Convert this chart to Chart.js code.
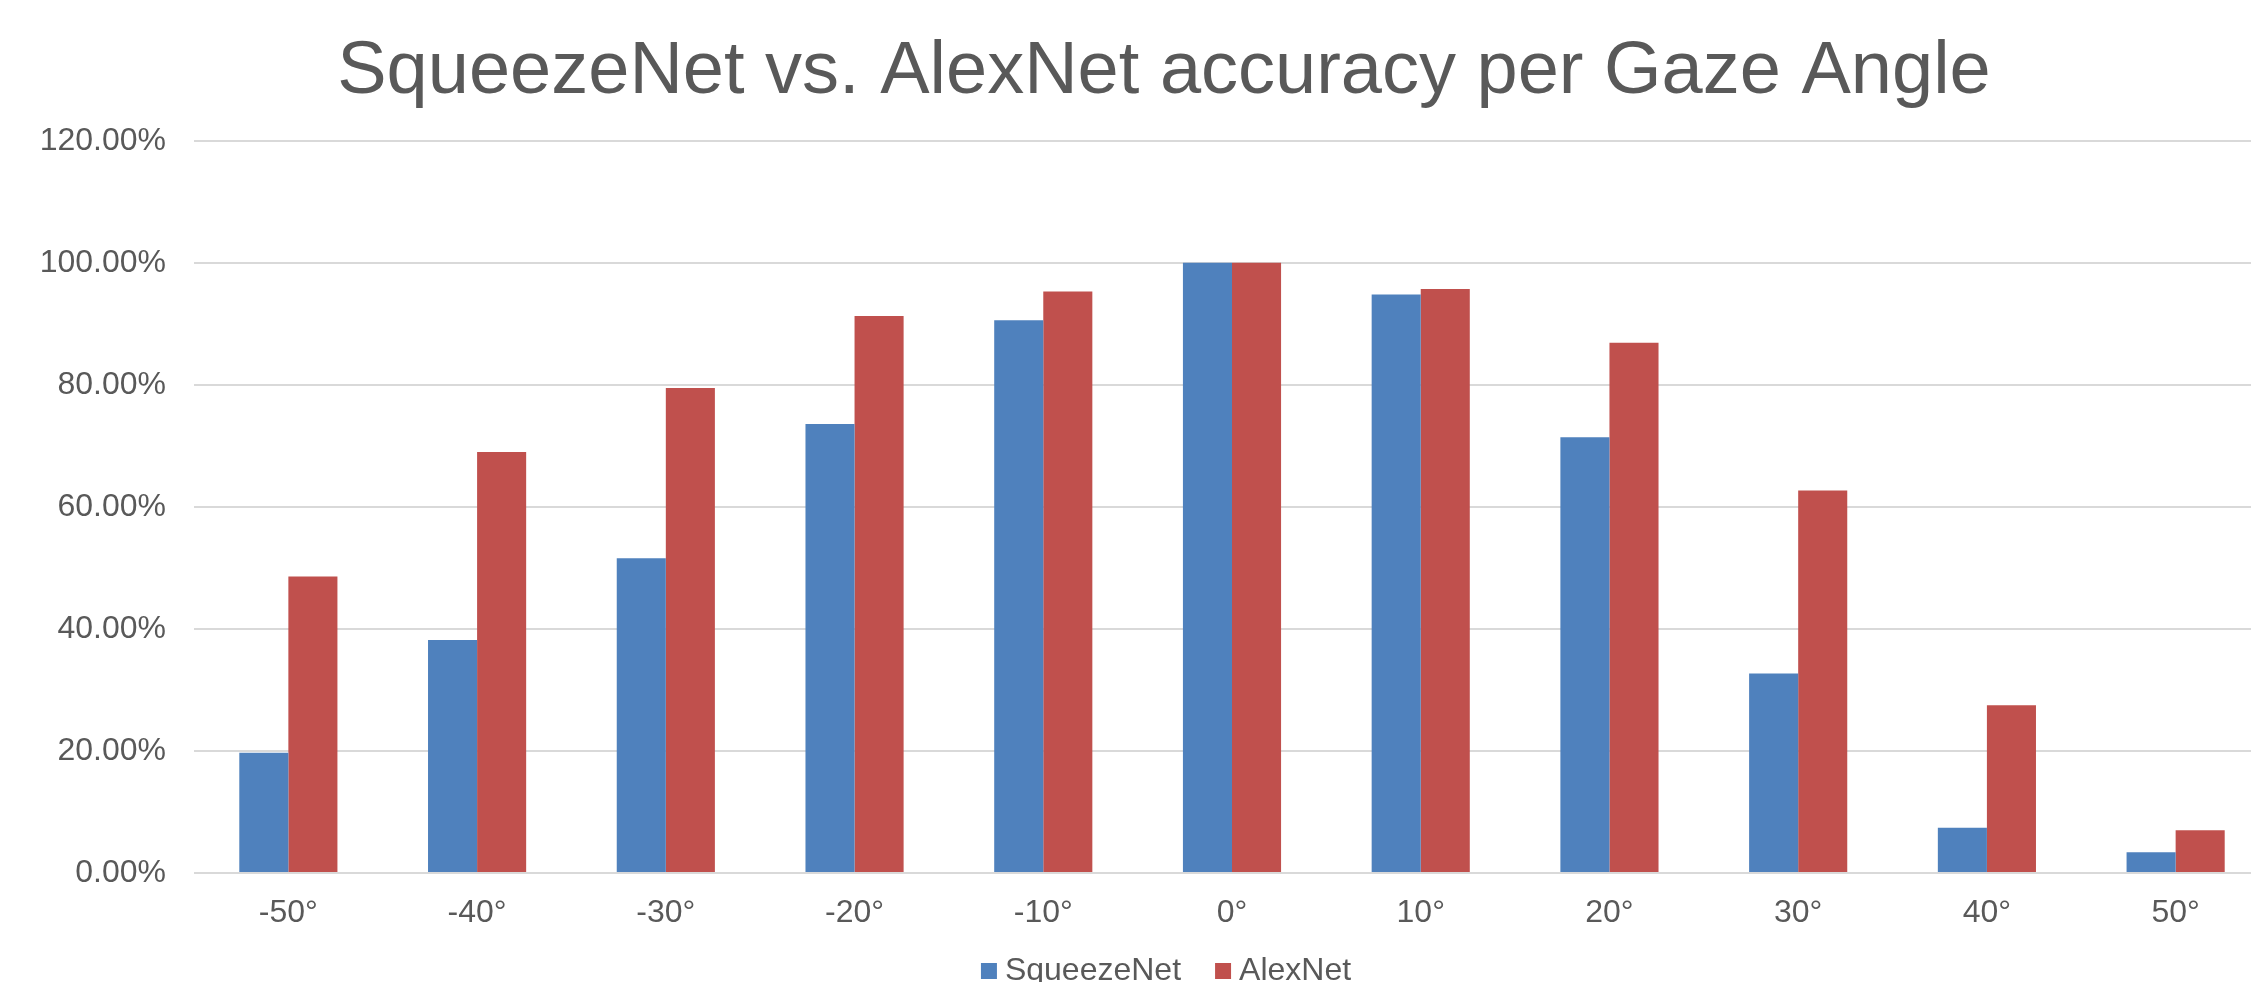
<!DOCTYPE html>
<html>
<head>
<meta charset="utf-8">
<title>SqueezeNet vs. AlexNet accuracy per Gaze Angle</title>
<script src="https://cdn.jsdelivr.net/npm/chart.js@4.4.1/dist/chart.umd.min.js"></script>
<style>
  html, body { margin: 0; padding: 0; background: #ffffff; overflow: hidden; }
  #wrap { position: absolute; left: 0; top: 0; width: 2328px; height: 997px; }
</style>
</head>
<body>
<div id="wrap"><canvas id="chart" width="2328" height="997"></canvas></div>
<script>
// Gaze angle categories
const angles = ['-50°', '-40°', '-30°', '-20°', '-10°', '0°', '10°', '20°', '30°', '40°', '50°'];

// Accuracy per angle, in percent
const squeezeNet = [19.7, 38.2, 51.6, 73.6, 90.6, 100.0, 94.8, 71.4, 32.7, 7.4, 3.4];
const alexNet    = [48.6, 69.0, 79.5, 91.3, 95.3, 100.0, 95.7, 86.9, 62.7, 27.5, 7.0];

// Value axis ticks (percent)
const yTicks = [0, 20, 40, 60, 80, 100, 120];

const seriesNames = ['SqueezeNet', 'AlexNet'];
const seriesColors = ['#4F81BD', '#C0504D'];

const textColor = '#595959';
const gridColor = '#D9D9D9';
const fontFamily = '"Liberation Sans", Arial, sans-serif';

// Legend swatch: a 16px square sitting near the right of a wider transparent tile,
// so the square hugs its label text.
function swatch(color) {
  const c = document.createElement('canvas');
  c.width = 32;
  c.height = 16;
  const g = c.getContext('2d');
  g.fillStyle = color;
  g.fillRect(14, 0, 16, 16);
  return c;
}
const swatches = seriesColors.map(swatch);

const chart = new Chart(document.getElementById('chart'), {
  type: 'bar',
  data: {
    labels: angles,
    datasets: [
      { label: seriesNames[0], data: squeezeNet, backgroundColor: seriesColors[0], borderWidth: 0 },
      { label: seriesNames[1], data: alexNet, backgroundColor: seriesColors[1], borderWidth: 0 }
    ]
  },
  options: {
    responsive: false,
    animation: false,
    devicePixelRatio: 1,
    categoryPercentage: 0.52,
    barPercentage: 1.0,
    layout: { padding: 0 },
    plugins: {
      title: {
        display: true,
        text: 'SqueezeNet vs. AlexNet accuracy per Gaze Angle',
        color: textColor,
        font: { family: fontFamily, size: 74, weight: 'normal', lineHeight: 1.2 },
        padding: { top: 28, bottom: 24 }
      },
      legend: {
        display: true,
        position: 'bottom',
        labels: {
          color: textColor,
          font: { family: fontFamily, size: 32 },
          usePointStyle: true,
          pointStyleWidth: 12,
          boxHeight: 16,
          padding: 30,
          generateLabels(c) {
            const items = Chart.defaults.plugins.legend.labels.generateLabels(c);
            items.forEach((it, i) => { it.pointStyle = swatches[i]; });
            return items;
          }
        }
      },
      tooltip: { enabled: false }
    },
    scales: {
      x: {
        grid: { display: false },
        border: { display: false },
        ticks: {
          color: textColor,
          font: { family: fontFamily, size: 32 },
          padding: 13,
          maxRotation: 0,
          autoSkip: false
        },
        afterFit(s) { s.height = 52; }
      },
      y: {
        min: yTicks[0],
        max: yTicks[yTicks.length - 1],
        afterBuildTicks(s) { s.ticks = yTicks.map(v => ({ value: v })); },
        grid: { color: gridColor, lineWidth: 2, drawTicks: false },
        border: { display: false },
        ticks: {
          color: textColor,
          font: { family: fontFamily, size: 32 },
          padding: 28,
          callback: v => v.toFixed(2) + '%'
        },
        afterFit(s) { s.width = 194; }
      },
      yRight: {
        position: 'right',
        min: 0,
        max: 120,
        grid: { display: false },
        border: { display: false },
        ticks: { display: false },
        afterFit(s) { s.width = 58; }
      }
    }
  }
});
</script>
</body>
</html>
